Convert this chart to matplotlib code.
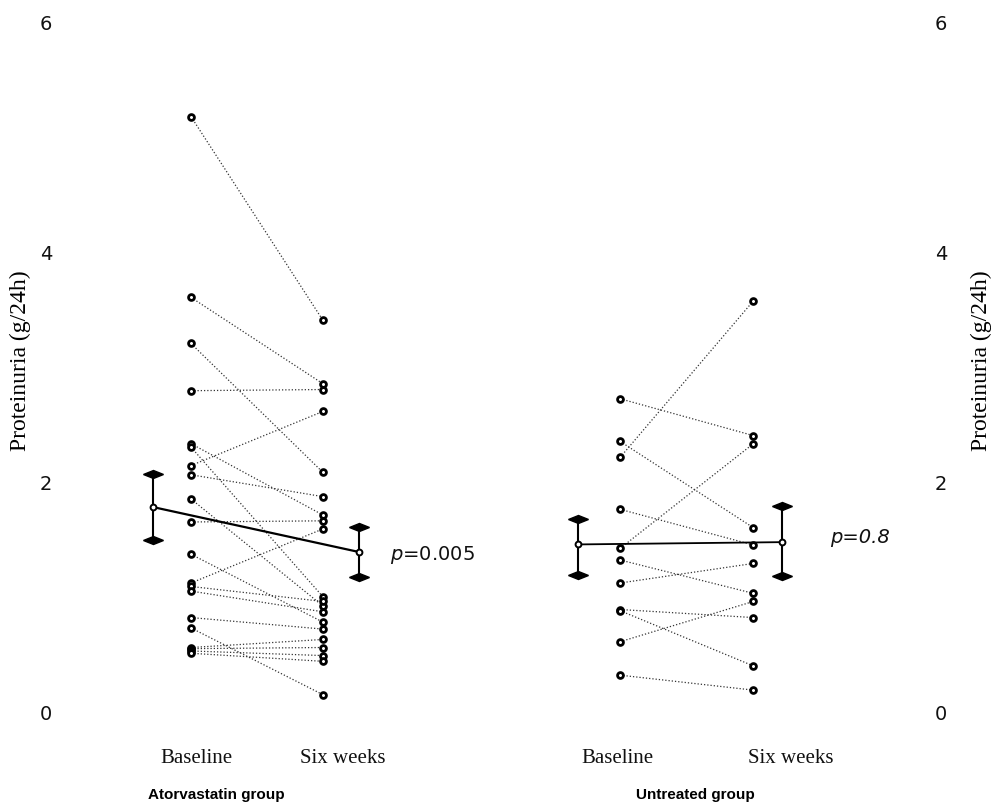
import matplotlib
matplotlib.use('Agg')
import matplotlib.pyplot as plt
from matplotlib.markers import MarkerStyle
from matplotlib.transforms import Affine2D, blended_transform_factory

# ---------------- data ----------------
atorva_baseline = [5.17, 3.60, 3.20, 2.79, 2.33, 2.30, 2.14, 2.06, 1.85, 1.65,
                   1.37, 1.12, 1.09, 1.05, 0.82, 0.73, 0.56, 0.55, 0.53, 0.51]
atorva_six = [3.40, 2.85, 2.08, 2.80, 1.71, 1.00, 2.61, 1.87, 0.92, 1.66,
              0.78, 1.59, 0.96, 0.87, 0.72, 0.15, 0.63, 0.56, 0.49, 0.44]
untreated_baseline = [2.72, 2.35, 2.21, 1.76, 1.42, 1.32, 1.12, 0.89, 0.88, 0.61, 0.32]
untreated_six = [2.40, 1.60, 3.57, 1.45, 2.33, 1.03, 1.29, 0.82, 0.40, 0.96, 0.19]

atorva_mean = [1.78, 1.39]
atorva_low = [1.49, 1.17]
atorva_high = [2.07, 1.61]
untreated_mean = [1.455, 1.475]
untreated_low = [1.19, 1.18]
untreated_high = [1.68, 1.785]

time_labels = ["Baseline", "Six weeks", "Baseline", "Six weeks"]
group_labels = ["Atorvastatin group", "Untreated group"]
p_labels = [r"$p$=0.005", "p=0.8"]
y_ticks = [0, 2, 4, 6]
y_label = "Proteinuria (g/24h)"

# ---------------- layout ----------------
W, H = 993, 803
fig = plt.figure(figsize=(W / 100, H / 100), dpi=100)
ax = fig.add_axes([62 / W, 90 / H, (925 - 62) / W, (713 - 22) / H])
ax.set_xlim(-0.977, 5.56)
ax.set_ylim(0, 6)

atorva_x = (0.0, 1.0)
untreated_x = (3.25, 4.26)
atorva_mean_x = (-0.29, 1.27)
untreated_mean_x = (2.93, 4.48)
label_x = [0.04, 1.15, 3.23, 4.54]
group_x = [0.19, 3.82]

dot_style = dict(ls=(0, (1, 1.6)), color='#333333', lw=0.9, zorder=1)
mk_style = dict(ls='none', marker='o', ms=4.2, mfc='white', mec='black', mew=2.0, zorder=3)

for xs, base, six in [(atorva_x, atorva_baseline, atorva_six),
                      (untreated_x, untreated_baseline, untreated_six)]:
    for b, s in zip(base, six):
        ax.plot(xs, [b, s], **dot_style)
    ax.plot([xs[0]] * len(base), base, **mk_style)
    ax.plot([xs[1]] * len(six), six, **mk_style)

cap = MarkerStyle('D', transform=Affine2D().scale(1.6, 0.7))
for mx, m, lo, hi, lw in [(atorva_mean_x, atorva_mean, atorva_low, atorva_high, 1.6),
                          (untreated_mean_x, untreated_mean, untreated_low, untreated_high, 1.3)]:
    ax.plot(mx, m, color='black', lw=lw, zorder=4)
    ax.vlines(mx, lo, hi, color='black', lw=1.5, zorder=4)
    ax.plot(mx, lo, ls='none', marker=cap, ms=6.5, color='black', zorder=5)
    ax.plot(mx, hi, ls='none', marker=cap, ms=6.5, color='black', zorder=5)
    ax.plot(mx, m, ls='none', marker='o', ms=4.2, mfc='white', mec='black', mew=1.4, zorder=6)

for s in ax.spines.values():
    s.set_visible(False)

ax.set_yticks(y_ticks)
ax.set_yticklabels([str(t) for t in y_ticks])
ax.tick_params(axis='y', length=0, pad=7, labelsize=14, labelcolor='#111111')
ax.set_xticks(label_x)
ax.set_xticklabels(time_labels, fontfamily='Liberation Serif', fontsize=15)
ax.tick_params(axis='x', length=0, pad=26, labelcolor='#111111')

ax.set_ylabel(y_label, fontfamily='Liberation Serif', fontsize=17)
ax.yaxis.set_label_coords((31 - 62) / 863, 0.51)

ax2 = ax.twinx()
ax2.set_ylim(0, 6)
ax2.set_yticks(y_ticks)
ax2.set_yticklabels([str(t) for t in y_ticks])
ax2.tick_params(axis='y', length=0, pad=7, labelsize=14, labelcolor='#111111')
for s in ax2.spines.values():
    s.set_visible(False)
ax2.set_ylabel(y_label, fontfamily='Liberation Serif', fontsize=17)
ax2.yaxis.set_label_coords((971 - 62) / 863, 0.51)

trans = blended_transform_factory(ax.transData, fig.transFigure)
for gx, gl in zip(group_x, group_labels):
    ax.text(gx, (H - 795) / H, gl, transform=trans, ha='center', va='center',
            fontfamily='Liberation Sans', fontweight='bold', fontsize=11)

ax.text(1.51, 1.37, p_labels[0], ha='left', va='center', fontsize=14, color='#111111')
ax.text(4.84, 1.52, p_labels[1], ha='left', va='center', fontsize=14, style='italic',
        color='#111111')

fig.savefig('out.png', dpi=100)
